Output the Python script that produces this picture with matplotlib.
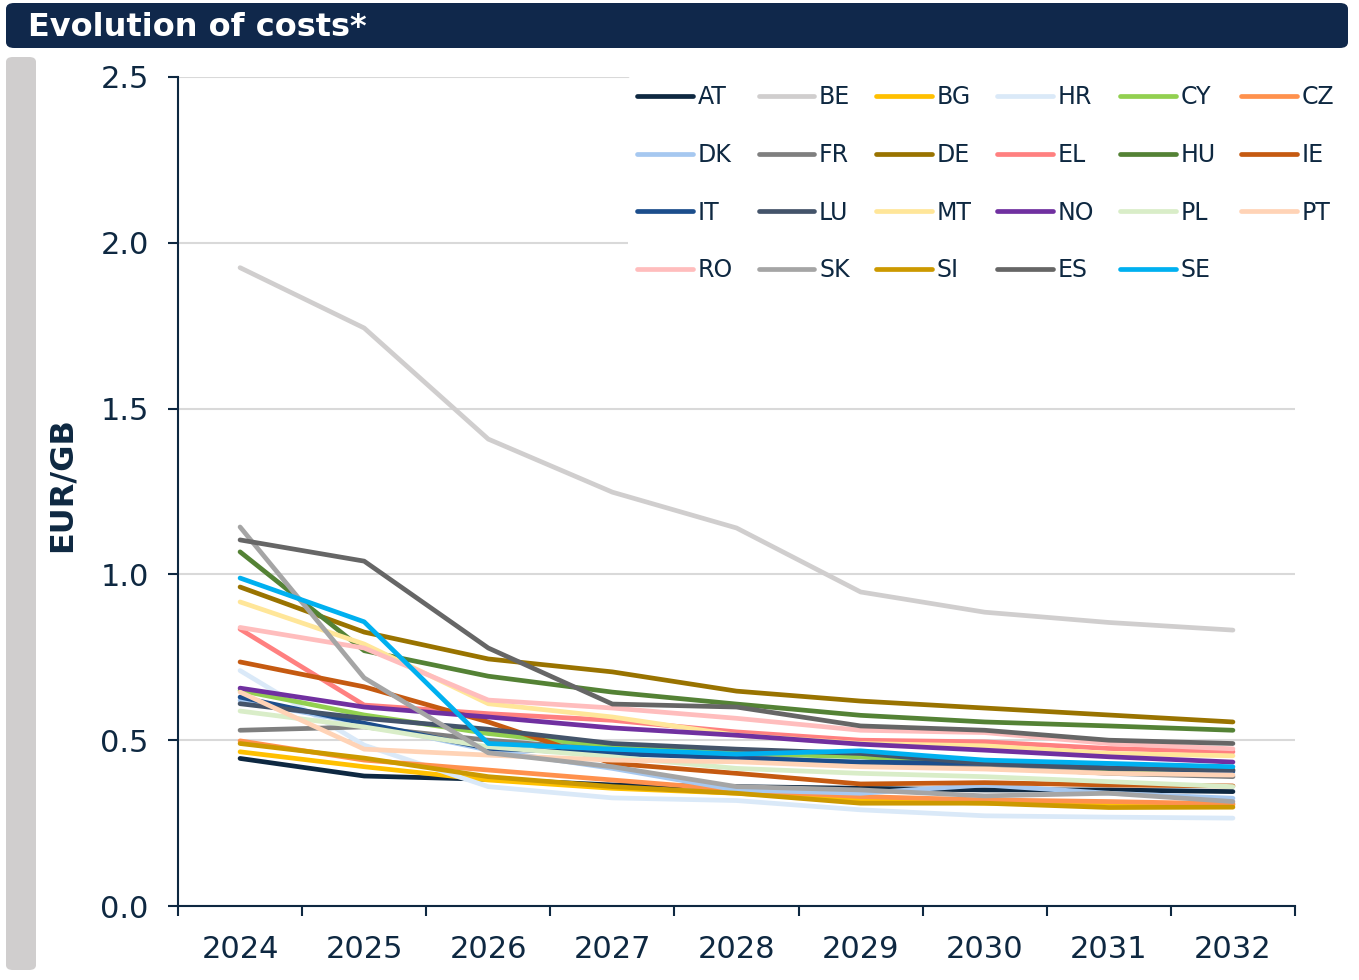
import matplotlib
import matplotlib.pyplot as plt
from matplotlib.patches import FancyBboxPatch

matplotlib.use('Agg')

# Evolution of costs per country, EUR/GB, 2024-2032
years = ['2024', '2025', '2026', '2027', '2028', '2029', '2030', '2031', '2032']

countries = ['AT', 'BE', 'BG', 'HR', 'CY', 'CZ', 'DK', 'FR', 'DE', 'EL', 'HU', 'IE',
             'IT', 'LU', 'MT', 'NO', 'PL', 'PT', 'RO', 'SK', 'SI', 'ES', 'SE']

at = [0.445, 0.392, 0.382, 0.365, 0.36, 0.355, 0.35, 0.35, 0.345]
be = [1.925, 1.743, 1.408, 1.248, 1.14, 0.947, 0.886, 0.855, 0.832]
bg = [0.465, 0.42, 0.38, 0.355, 0.34, 0.32, 0.31, 0.31, 0.305]
hr = [0.71, 0.485, 0.36, 0.326, 0.318, 0.29, 0.272, 0.268, 0.265]
cy = [0.65, 0.576, 0.52, 0.48, 0.46, 0.45, 0.42, 0.41, 0.41]
cz = [0.498, 0.44, 0.41, 0.38, 0.35, 0.33, 0.32, 0.315, 0.308]
dk = [0.62, 0.55, 0.47, 0.415, 0.35, 0.34, 0.365, 0.34, 0.325]
fr = [0.53, 0.54, 0.5, 0.47, 0.45, 0.43, 0.42, 0.4, 0.39]
de = [0.962, 0.826, 0.745, 0.706, 0.648, 0.618, 0.597, 0.576, 0.555]
el = [0.835, 0.606, 0.58, 0.56, 0.525, 0.5, 0.495, 0.475, 0.465]
hu = [1.068, 0.77, 0.693, 0.645, 0.609, 0.575, 0.555, 0.543, 0.53]
ie = [0.736, 0.661, 0.555, 0.43, 0.4, 0.368, 0.372, 0.365, 0.362]
it = [0.63, 0.551, 0.475, 0.46, 0.446, 0.434, 0.43, 0.417, 0.406]
lu = [0.61, 0.566, 0.533, 0.49, 0.473, 0.46, 0.43, 0.415, 0.41]
mt = [0.917, 0.79, 0.61, 0.57, 0.515, 0.49, 0.483, 0.46, 0.453]
no = [0.657, 0.6, 0.57, 0.537, 0.515, 0.488, 0.47, 0.45, 0.434]
pl = [0.588, 0.54, 0.48, 0.45, 0.415, 0.4, 0.39, 0.375, 0.36]
pt = [0.645, 0.473, 0.455, 0.44, 0.435, 0.42, 0.413, 0.4, 0.395]
ro = [0.84, 0.778, 0.621, 0.597, 0.566, 0.53, 0.523, 0.49, 0.474]
sk = [1.143, 0.688, 0.462, 0.42, 0.36, 0.35, 0.332, 0.34, 0.315]
si = [0.49, 0.446, 0.39, 0.36, 0.34, 0.31, 0.31, 0.297, 0.298]
es = [1.104, 1.04, 0.778, 0.609, 0.6, 0.543, 0.53, 0.5, 0.49]
se = [0.989, 0.857, 0.49, 0.473, 0.458, 0.468, 0.44, 0.43, 0.42]

series = [at, be, bg, hr, cy, cz, dk, fr, de, el, hu, ie,
          it, lu, mt, no, pl, pt, ro, sk, si, es, se]

colors = ['#0E2841', '#D0CECE', '#FFC000', '#DAE9F8', '#92D050', '#FF914D',
          '#A6C8F0', '#7F7F7F', '#997300', '#FF8080', '#548235', '#C55A11',
          '#1C4E8C', '#44546A', '#FFE699', '#7030A0', '#D9EDC8', '#FFD3B6',
          '#FFBDBD', '#A5A5A5', '#CC9900', '#666666', '#00B0F0']

navy = '#0E2841'

fig = plt.figure(figsize=(13.59, 9.80), dpi=100)

# Title bar and side bar
fig.patches.append(FancyBboxPatch((6 / 1359, 1 - 48 / 980), 1342 / 1359, 45 / 980,
                                  boxstyle='round,pad=0,rounding_size=0.006',
                                  transform=fig.transFigure, facecolor='#10284B',
                                  edgecolor='none'))
fig.patches.append(FancyBboxPatch((6 / 1359, 1 - 970 / 980), 30 / 1359, 913 / 980,
                                  boxstyle='round,pad=0,rounding_size=0.005',
                                  transform=fig.transFigure, facecolor='#D0CECE',
                                  edgecolor='none'))
fig.text(28 / 1359, 1 - 28 / 980, 'Evolution of costs*', color='white',
         fontsize=23, fontweight='bold', va='center', ha='left')

ax = fig.add_axes([178 / 1359, 1 - 906 / 980, 1117 / 1359, 829 / 980])

x = list(range(len(years)))
for name, vals, col in zip(countries, series, colors):
    ax.plot(x, vals, color=col, linewidth=3.4, solid_capstyle='round',
            solid_joinstyle='round', label=name)

ax.set_xlim(-0.5, len(years) - 0.5)
ax.set_ylim(0, 2.5)
ax.set_yticks([0, 0.5, 1.0, 1.5, 2.0, 2.5])
ax.set_yticklabels(['0.0', '0.5', '1.0', '1.5', '2.0', '2.5'])
ax.set_xticks(x)
ax.set_xticklabels(years)
ax.set_xticks([i - 0.5 for i in range(len(years) + 1)], minor=True)

ax.grid(axis='y', color='#D9D9D9', linewidth=1.5)
ax.set_axisbelow(True)
for s in ['top', 'right']:
    ax.spines[s].set_visible(False)
for s in ['left', 'bottom']:
    ax.spines[s].set_color(navy)
    ax.spines[s].set_linewidth(1.5)

ax.tick_params(axis='x', which='major', length=0, pad=21, labelsize=22, labelcolor=navy)
ax.tick_params(axis='x', which='minor', length=7, width=1.5, color=navy, direction='out')
ax.tick_params(axis='y', length=7, width=1.5, color=navy, pad=14, labelsize=22,
               labelcolor=navy)

fig.text(62 / 1359, 1 - 485 / 980, 'EUR/GB', rotation=90, color=navy,
         fontsize=23, fontweight='bold', va='center', ha='center')

# Legend reads row by row in the source, matplotlib fills column by column
handles, labels = ax.get_legend_handles_labels()
ncol = 6
order = []
for c in range(ncol):
    order += list(range(c, len(handles), ncol))
leg = ax.legend([handles[i] for i in order], [labels[i] for i in order],
                ncol=ncol, loc='upper left', bbox_to_anchor=(628 / 1359, 1 - 76 / 980),
                bbox_transform=fig.transFigure, fontsize=17, frameon=True,
                facecolor='white', edgecolor='none', framealpha=1, borderpad=0.4,
                handlelength=2.35, handletextpad=0.2, columnspacing=1.1,
                labelspacing=1.42, borderaxespad=0)
for t in leg.get_texts():
    t.set_color(navy)

fig.savefig('out.png', dpi=100)
